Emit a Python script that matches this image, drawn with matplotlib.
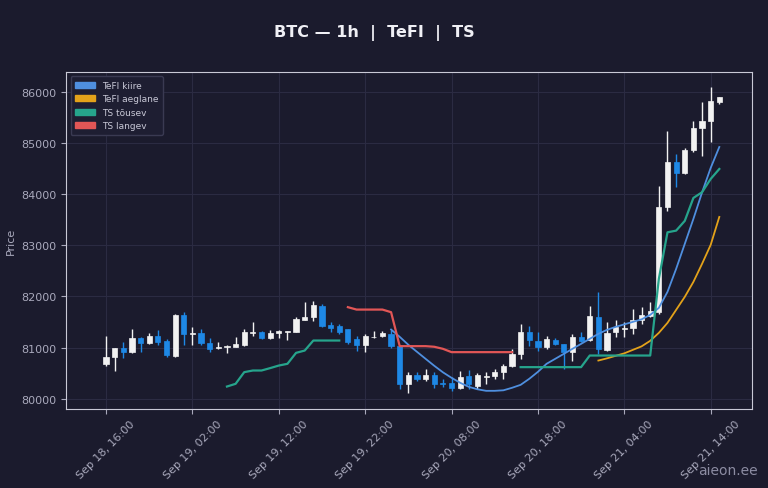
import numpy as np
import pandas as pd
import matplotlib
matplotlib.use("Agg")
import matplotlib.pyplot as plt
import matplotlib.dates as mdates
from matplotlib.patches import Patch

# hourly candles, Sep 18 16:00 -> Sep 21 15:00
times = pd.date_range("2025-09-18 16:00", periods=72, freq="h")

opens = [80684, 80814, 81002, 80912, 81197, 81094, 81224, 81127, 80846, 81646,
         81263, 81290, 81094, 80990, 81003, 81020, 81055, 81290, 81315, 81185,
         81290, 81310, 81302, 81540, 81595, 81822, 81445, 81420, 81367, 81172,
         81055, 81200, 81230, 81270, 81030, 80293, 80469, 80390, 80469, 80300,
         80306, 80215, 80443, 80260, 80423, 80443, 80533, 80650, 80879, 81315,
         81139, 81010, 81158, 81074, 80924, 81217, 81158, 81596, 80963, 81302,
         81360, 81380, 81543, 81628, 81700, 83744, 84635, 84408, 84863, 85287,
         85436, 85807]
highs = [81230, 81000, 81119, 81367, 81200, 81283, 81348, 81172, 81660, 81705,
         81412, 81367, 81191, 81119, 81055, 81217, 81367, 81498, 81320, 81348,
         81335, 81330, 81600, 81900, 81920, 81860, 81510, 81470, 81370, 81236,
         81270, 81334, 81334, 81348, 81030, 80521, 80521, 80586, 80521, 80390,
         80423, 80553, 80560, 80500, 80521, 80586, 80683, 80977, 81465, 81432,
         81302, 81236, 81185, 81074, 81270, 81302, 81822, 82084, 81497, 81549,
         81497, 81758, 81790, 81889, 84166, 85240, 84785, 84900, 85424, 85795,
         86087, 85895]
lows = [80645, 80553, 80795, 80898, 80924, 81068, 81055, 80826, 80826, 81055,
        81055, 81055, 80912, 80977, 80898, 81010, 81041, 81224, 81170, 81170,
        81190, 81140, 81302, 81540, 81530, 81400, 81315, 81275, 81080, 80943,
        80924, 81185, 81210, 80997, 80195, 80117, 80357, 80357, 80209, 80230,
        80162, 80195, 80195, 80200, 80293, 80390, 80390, 80625, 80781, 81041,
        80943, 80977, 81055, 80586, 80748, 81107, 81139, 80879, 80943, 81204,
        81204, 81270, 81465, 81596, 81650, 83678, 84135, 84390, 84818, 84752,
        85013, 85760]
closes = [80820, 80990, 80912, 81197, 81094, 81224, 81107, 80859, 81641, 81263,
          81295, 81094, 80977, 81020, 81035, 81074, 81302, 81315, 81185, 81295,
          81330, 81320, 81562, 81607, 81836, 81432, 81380, 81315, 81120, 81055,
          81236, 81210, 81283, 81030, 80293, 80469, 80390, 80469, 80293, 80290,
          80209, 80423, 80293, 80469, 80455, 80533, 80650, 80879, 81302, 81140,
          81010, 81172, 81074, 80912, 81205, 81139, 81615, 80977, 81289, 81400,
          81375, 81543, 81641, 81713, 83744, 84635, 84408, 84869, 85293, 85436,
          85826, 85892]

nan = np.nan
tefi_fast = [nan] * 33 + [
    81354, 81211, 81055, 80918, 80781, 80645, 80518, 80410, 80313, 80234,
    80186, 80156, 80156, 80166, 80215, 80273, 80391, 80527, 80684, 80781,
    80879, 80977, 81074, 81172, 81270, 81348, 81406, 81455, 81504, 81553,
    81641, 81777, 82090, 82539, 83027, 83516, 84033, 84512, 84922]
tefi_slow = [nan] * 57 + [
    80748, 80791, 80840, 80889, 80957, 81025, 81133, 81289, 81484, 81738,
    81992, 82285, 82637, 83008, 83555]
ts_up = ([nan] * 14 +
         [80240, 80293, 80521, 80553, 80553, 80600, 80650, 80684, 80898, 80943,
          81139, 81139, 81139, 81139] +
         [nan] * 20 +
         [80619] * 8 + [80846] * 8 +
         [82344, 83254, 83287, 83477, 83926, 84037, 84297, 84492])
ts_down = ([nan] * 28 +
           [81791, 81744, 81744, 81744, 81744, 81693, 81029, 81029, 81029, 81029,
            81017, 80977] + [80912] * 8 +
           [nan] * 24)

BG = "#1b1b2d"
TXT = "#a9a9bc"
UP = "#f2f2f2"
DOWN = "#1e88e5"
C_FAST = "#4f8fdf"
C_SLOW = "#e3a21a"
C_UP = "#26a48c"
C_DOWN = "#e25656"

fig = plt.figure(figsize=(7.68, 4.89), dpi=100, facecolor=BG)
ax = fig.add_axes([0.086, 0.162, 0.893, 0.689], facecolor=BG)

x = mdates.date2num(times)
w = 0.6 / 24
for xi, o, h, l, c in zip(x, opens, highs, lows, closes):
    col = UP if c >= o else DOWN
    ax.vlines(xi, l, h, color=col, linewidth=1, zorder=2)
    ax.bar(xi, max(abs(c - o), 8), bottom=min(o, c), width=w,
           color=col, edgecolor=col, linewidth=0.5, zorder=3)

ax.plot(x, tefi_fast, color=C_FAST, linewidth=1.3, zorder=4)
ax.plot(x, tefi_slow, color=C_SLOW, linewidth=1.3, zorder=4)
ax.plot(x, ts_up, color=C_UP, linewidth=1.6, zorder=4)
ax.plot(x, ts_down, color=C_DOWN, linewidth=1.6, zorder=4)

ax.set_xlim(x[0] - 4.63 / 24, x[-1] + 3.77 / 24)
ax.set_ylim(79805, 86390)

ax.set_xticks(x[::10])
ax.xaxis.set_major_formatter(mdates.DateFormatter("%b %d, %H:%M"))
plt.setp(ax.get_xticklabels(), rotation=45, ha="center")
ax.set_yticks([80000, 81000, 82000, 83000, 84000, 85000, 86000])

ax.tick_params(colors=TXT, labelsize=8)
for s in ax.spines.values():
    s.set_color("#c9c9d6")
ax.grid(True, color="#2b2b42", linewidth=0.8)
ax.set_axisbelow(True)
ax.set_ylabel("Price", color=TXT, fontsize=8)

handles = [Patch(color=C_FAST, label="TeFI kiire"),
           Patch(color=C_SLOW, label="TeFI aeglane"),
           Patch(color=C_UP, label="TS tõusev"),
           Patch(color=C_DOWN, label="TS langev")]
leg = ax.legend(handles=handles, loc="upper left", fontsize=6.5,
                facecolor="#1e1e32", edgecolor="#3a3a52", labelcolor="#c8c8d6",
                framealpha=1, borderpad=0.5, handlelength=2.2)

fig.text(0.488, 0.932, "BTC — 1h  |  TeFI  |  TS", ha="center", va="center",
         color="#f0f0f5", fontsize=11.5, fontweight="bold")
fig.text(0.987, 0.036, "aieon.ee", ha="right", va="center",
         color="#8c8ca2", fontsize=10)

fig.savefig("out.png", dpi=100, facecolor=BG)
